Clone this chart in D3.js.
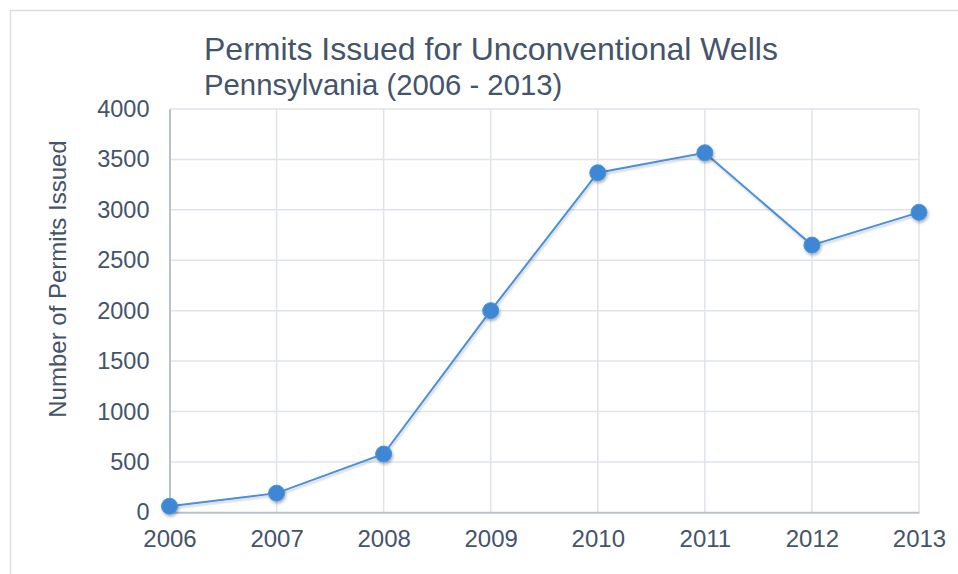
<!DOCTYPE html>
<html>
<head>
<meta charset="utf-8">
<script src="https://cdn.jsdelivr.net/npm/d3@7"></script>
<style>
  html, body { margin: 0; padding: 0; background: #fff; }
  svg { display: block; font-family: "Liberation Sans", Arial, sans-serif; }
</style>
</head>
<body>
<svg id="chart" width="958" height="574"></svg>
<script>
// Permits issued per year
const years = ["2006", "2007", "2008", "2009", "2010", "2011", "2012", "2013"];
const permits = [60, 190, 578, 2000, 3368, 3566, 2650, 2975];
const yTicks = [0, 500, 1000, 1500, 2000, 2500, 3000, 3500, 4000];

const titleText = "Permits Issued for Unconventional Wells";
const subtitleText = "Pennsylvania (2006 - 2013)";
const yAxisTitle = "Number of Permits Issued";

const svg = d3.select("#chart");
const W = 958, H = 574;
const textColor = "#44546a";
const gridColor = "#dfe3ea";
const axisColor = "#b8c0cc";
const lineColor = "#4a90d9";
const markerColor = "#3c87d4";

const margin = { left: 169.5, right: 958 - 919, top: 109, bottom: 574 - 512.3 };

// Chart frame
svg.append("rect")
  .attr("x", 10.5).attr("y", 10.5)
  .attr("width", W + 10).attr("height", H + 10)
  .attr("fill", "none")
  .attr("stroke", "#d9dee7")
  .attr("stroke-width", 1.5);

const x = d3.scalePoint()
  .domain(years)
  .range([margin.left, W - margin.right]);

const y = d3.scaleLinear()
  .domain([0, 4000])
  .range([H - margin.bottom, margin.top]);

// Horizontal gridlines
svg.append("g")
  .selectAll("line")
  .data(yTicks.filter(d => d > 0))
  .join("line")
  .attr("x1", margin.left).attr("x2", W - margin.right)
  .attr("y1", d => y(d)).attr("y2", d => y(d))
  .attr("stroke", gridColor).attr("stroke-width", 1.5);

// Vertical gridlines
svg.append("g")
  .selectAll("line")
  .data(years.slice(1))
  .join("line")
  .attr("x1", d => x(d)).attr("x2", d => x(d))
  .attr("y1", margin.top).attr("y2", y(0))
  .attr("stroke", gridColor).attr("stroke-width", 1.5);

// Axes
const xAxis = d3.axisBottom(x).tickSize(0).tickPadding(18);
const gx = svg.append("g")
  .attr("transform", `translate(0,${y(0)})`)
  .call(xAxis);
gx.select(".domain").attr("stroke", axisColor).attr("stroke-width", 2);
gx.selectAll("text")
  .attr("fill", textColor)
  .style("font-size", "24px")
  .style("font-family", "'Liberation Sans', Arial, sans-serif");

const yAxis = d3.axisLeft(y).tickValues(yTicks).tickSize(0).tickPadding(20)
  .tickFormat(d3.format("d"));
const gy = svg.append("g")
  .attr("transform", `translate(${margin.left},0)`)
  .call(yAxis);
gy.select(".domain").attr("stroke", axisColor).attr("stroke-width", 2);
gy.selectAll("text")
  .attr("fill", textColor)
  .style("font-size", "23.5px")
  .style("font-family", "'Liberation Sans', Arial, sans-serif");

// Soft drop shadows under the markers and the line
const defs = svg.append("defs");
const f = defs.append("filter").attr("id", "shadow")
  .attr("x", "-50%").attr("y", "-50%").attr("width", "200%").attr("height", "200%");
f.append("feDropShadow")
  .attr("dx", 1).attr("dy", 2).attr("stdDeviation", 1.6)
  .attr("flood-color", "#000").attr("flood-opacity", 0.3);

const lineShadow = defs.append("filter").attr("id", "lshadow")
  .attr("x", "-10%").attr("y", "-10%").attr("width", "120%").attr("height", "120%");
lineShadow.append("feDropShadow")
  .attr("dx", 1).attr("dy", 2).attr("stdDeviation", 1.2)
  .attr("flood-color", "#000").attr("flood-opacity", 0.2);

const data = years.map((yr, i) => ({ yr, v: permits[i] }));

svg.append("path")
  .datum(data)
  .attr("fill", "none")
  .attr("stroke", lineColor)
  .attr("stroke-width", 2)
  .attr("filter", "url(#lshadow)")
  .attr("d", d3.line().x(d => x(d.yr)).y(d => y(d.v)));

svg.append("g")
  .selectAll("circle")
  .data(data)
  .join("circle")
  .attr("cx", d => x(d.yr))
  .attr("cy", d => y(d.v))
  .attr("r", 8)
  .attr("fill", markerColor)
  .attr("stroke", "#4b93dc")
  .attr("stroke-width", 1)
  .attr("filter", "url(#shadow)");

// Titles
svg.append("text")
  .attr("x", 204).attr("y", 60)
  .attr("fill", textColor)
  .style("font-size", "32px")
  .text(titleText);

svg.append("text")
  .attr("x", 204).attr("y", 95)
  .attr("fill", textColor)
  .style("font-size", "29.3px")
  .text(subtitleText);

svg.append("text")
  .attr("transform", `translate(66,279) rotate(-90)`)
  .attr("text-anchor", "middle")
  .attr("fill", textColor)
  .style("font-size", "24px")
  .text(yAxisTitle);
</script>
</body>
</html>
